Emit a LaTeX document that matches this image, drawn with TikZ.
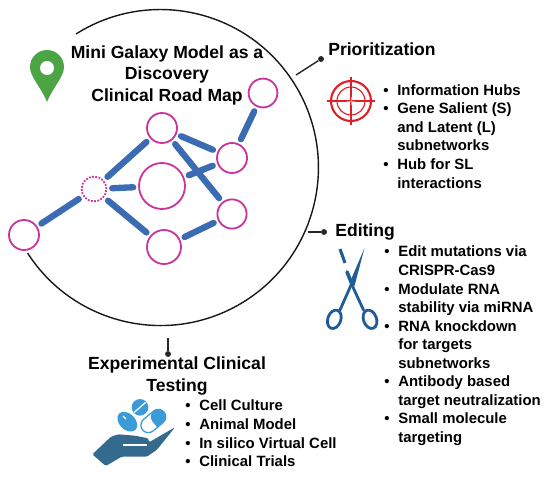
\documentclass[tikz,border=0pt]{standalone}
\usepackage{fontspec}
\setmainfont{Liberation Sans}
\usepackage{xcolor}
\usepackage{tikz}
\usetikzlibrary{positioning}
\definecolor{galaxy}{HTML}{C9359C}
\definecolor{linkblue}{HTML}{3A6BB3}
\definecolor{pingreen}{HTML}{4BA545}
\definecolor{targetred}{HTML}{DB2027}
\definecolor{scissorblue}{HTML}{1F5C98}
\definecolor{handblue}{HTML}{336A8E}
\definecolor{pillblue}{HTML}{3A9BD8}
\newcommand{\bul}{\textbullet}
\newcommand{\headfont}{\bfseries\fontsize{12.5}{15.3}\selectfont}
\newcommand{\listfont}{\bfseries\fontsize{10.6}{13.2}\selectfont}

\begin{document}
\begin{tikzpicture}[x=0.025cm, y=0.025cm,
	hub/.style={circle, draw=galaxy, line width=1.3pt, inner sep=0pt, minimum size=#1},
	link/.style={draw=linkblue, line width=4.5pt, line cap=round, shorten <=3.5pt, shorten >=3.5pt},
	rim/.style={line width=1pt, black!90},
	tag/.style={circle, fill=black!85, inner sep=0pt, minimum size=4.2pt},
	tagline/.style={line width=1pt, black!85},
	heading/.style={font=\headfont, align=center, inner sep=0pt},
	bullets/.style={font=\listfont, anchor=west, inner sep=0pt},
	blade/.style={draw=scissorblue, line width=2pt, line cap=round}]
	\useasboundingbox (0,0) rectangle (550,481);
	
	\draw[rim] (76,447) arc[start angle=122.3,end angle=-147.2,radius=158];
	
	\node[hub=0.72cm] (nTop) at (263,388) {};
	\node[hub=0.75cm] (nUpper) at (162,353) {};
	\node[hub=0.75cm] (nRight) at (232,323) {};
	\node[hub=1.15cm] (nCore) at (162,295) {};
	\node[hub=0.62cm, densely dotted] (nRelay) at (94,292) {};
	\node[hub=0.73cm] (nLow) at (232,267) {};
	\node[hub=0.85cm] (nBottom) at (164,234) {};
	\node[hub=0.75cm] (nLeft) at (24,246) {};
	
	\draw[link] (nLeft) -- (nRelay);
	\draw[link] (nRelay) -- (nUpper);
	\draw[link] (nRelay) -- (nCore);
	\draw[link] (nRelay) -- (nBottom);
	\draw[link] (nBottom) -- (nLow);
	\draw[link] (nCore) -- (nRight);
	\draw[link] (nUpper) -- (nLow);
	\draw[link] (nUpper) -- (nRight);
	\draw[link] (nRight) -- (nTop);
	
	\node[heading] (title) at (167,406) {Mini Galaxy Model as a\\Discovery\\Clinical Road Map};
	
	\fill[pingreen] (47,379) .. controls (41,394) and (30,404) .. (30,414) arc[start angle=180,end angle=0,radius=17] .. controls (64,404) and (53,394) .. (47,379) -- cycle;
	\fill[white] (47,413) circle (7);
	
	\node[heading, anchor=west] (prio) at (328,432) {Prioritization};
	\coordinate (prioEnd) at (296,406);
	\node[tag] (prioTag) at (321,422) {};
	\draw[tagline] (prioEnd) -- (prioTag);
	
	\draw[targetred, line width=1.5pt] (351,380) circle (20);
	\draw[targetred, line width=0.8pt] (351,380) circle (14);
	\draw[targetred, line width=0.8pt] (327,380) -- (375,380) (351,356) -- (351,404);
	\draw[targetred!45, line width=0.6pt] (347,380) -- (355,380) (351,376) -- (351,384);
	
	\node[bullets] (prioList) at (383,343) {\begin{tabular}{@{}p{10pt}@{}l@{}}
		\bul & Information Hubs\\
		\bul & Gene Salient (S)\\
		& and Latent (L)\\
		& subnetworks\\
		\bul & Hub for SL\\
		& interactions
	\end{tabular}};
	
	\node[heading, anchor=west] (edit) at (335,249) {Editing};
	\coordinate (editEnd) at (308,249);
	\node[tag] (editTag) at (324,249) {};
	\draw[tagline] (editEnd) -- (editTag);
	
	\fill[scissorblue] (364.5,233) -- (354.5,195) -- (349.5,198) -- cycle;
	\draw[blade] (351.5,197) -- (340,171);
	\draw[blade] (351.5,197) -- (363.5,171);
	\draw[blade, line width=2.6pt] (347,209) -- (352,197);
	\draw[blade, line cap=butt, line width=2.2pt] (340,232) -- (345,218);
	\draw[scissorblue, line width=2pt, rotate around={-20:(334.3,161.7)}] (334.3,161.7) ellipse (6.5 and 9.5);
	\draw[scissorblue, line width=2pt, rotate around={20:(370,161.7)}] (370,161.7) ellipse (6.5 and 9.5);
	
	\node[bullets] (editList) at (384,135) {\begin{tabular}{@{}p{10pt}@{}l@{}}
		\bul & Edit mutations via\\
		& CRISPR-Cas9\\
		\bul & Modulate RNA\\
		& stability via miRNA\\
		\bul & RNA knockdown\\
		& for targets\\
		& subnetworks\\
		\bul & Antibody based\\
		& target neutralization\\
		\bul & Small molecule\\
		& targeting
	\end{tabular}};
	
	\coordinate (testEnd) at (168,143);
	\node[tag] (testTag) at (168,127) {};
	\draw[tagline] (testEnd) -- (testTag);
	\node[heading] (test) at (177,105) {Experimental Clinical\\Testing};
	
	\fill[handblue, rounded corners=1pt] (92.3,26.7) -- (111,44.3) -- (118.3,46.7) -- (135,45.3) -- (148.3,42.7) -- (149,38.7) -- (175,53.7) -- (156.7,31) -- (146.7,24.3) -- (121.7,24.3) -- (105.7,15) -- cycle;
	\draw[white, line width=1pt] (123.3,36) -- (146.7,36);
	\fill[pillblue] (140,73.7) circle (8.3);
	\draw[white, line width=0.9pt] (134.3,68.7) -- (145.7,78.7);
	\fill[pillblue, rotate around={-45:(127.3,59.3)}] (127.3,59.3) ellipse (11.5 and 8);
	\draw[white, line width=0.9pt] (123,65) -- (126,62);
	\begin{scope}[shift={(153.3,60)}, rotate=40]
		\draw[pillblue, line width=0.9pt, fill=white, rounded corners=5.4pt] (-14,-7.5) rectangle (14,7.5);
		\fill[pillblue, rounded corners=5.4pt] (-1,-7.5) -- (14,-7.5) -- (14,7.5) -- (-1,7.5) [sharp corners] -- cycle;
	\end{scope}
	
	\node[bullets] (testList) at (185,46) {\begin{tabular}{@{}p{10pt}@{}l@{}}
		\bul & Cell Culture\\
		\bul & Animal Model\\
		\bul & In silico Virtual Cell\\
		\bul & Clinical Trials
	\end{tabular}};
\end{tikzpicture}
\end{document}
